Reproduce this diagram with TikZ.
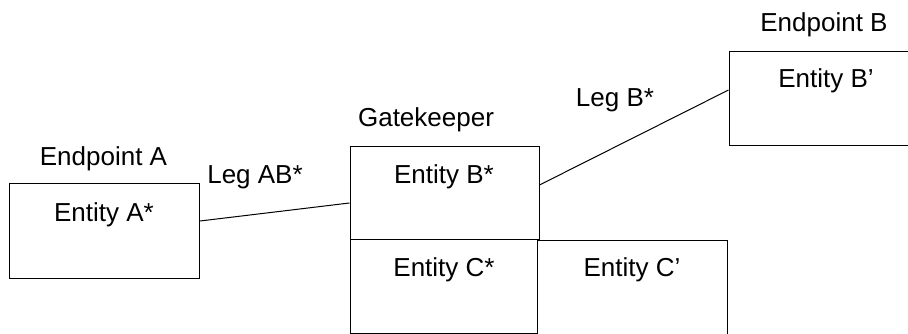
\documentclass[tikz,border=0pt]{standalone}
\usepackage{fontspec}
\setmainfont{Liberation Sans}
\begin{document}
\begin{tikzpicture}[x=1pt,y=-1pt,
  box/.style={draw=black, line width=1pt, inner sep=0pt, fill=none},
  lbl/.style={font=\fontsize{26}{30}\selectfont, anchor=base, inner sep=0pt},
  leg/.style={draw=black, line width=1pt}]
\useasboundingbox (0,0) rectangle (908,334);
\clip (0,0) rectangle (908,334);
% boxes
\node[box, minimum width=190pt, minimum height=94pt] (A) at (104.5,231) {};
\node[box, minimum width=189pt, minimum height=92pt] (GB) at (444.5,193) {};
\node[box, minimum width=187pt, minimum height=94pt] (GC) at (443.5,286) {};
\node[box, minimum width=190pt, minimum height=100pt] (CP) at (632,290) {};
\node[box, minimum width=184pt, minimum height=94pt] (BP) at (821,99) {};
% texts
\node[lbl] (tEA) at (103.5,165) {Endpoint A};
\node[lbl] (tA) at (104,221) {Entity A*};
\node[lbl] (tLAB) at (255,183) {Leg AB*};
\node[lbl] (tGK) at (426,127) {Gatekeeper};
\node[lbl] (tB) at (444,183) {Entity B*};
\node[lbl] (tC) at (444,276) {Entity C*};
\node[lbl] (tCP) at (632,276) {Entity C’};
\node[lbl] (tLB) at (615,107) {Leg B*};
\node[lbl] (tEB) at (824,32) {Endpoint B};
\node[lbl] (tBP) at (826,88) {Entity B’};
% connectors
\draw[leg] ([yshift=10pt]A.east) -- ([yshift=-10pt]GB.west);
\draw[leg] ([yshift=8pt]GB.east) -- ([yshift=9pt]BP.west);
\end{tikzpicture}
\end{document}
